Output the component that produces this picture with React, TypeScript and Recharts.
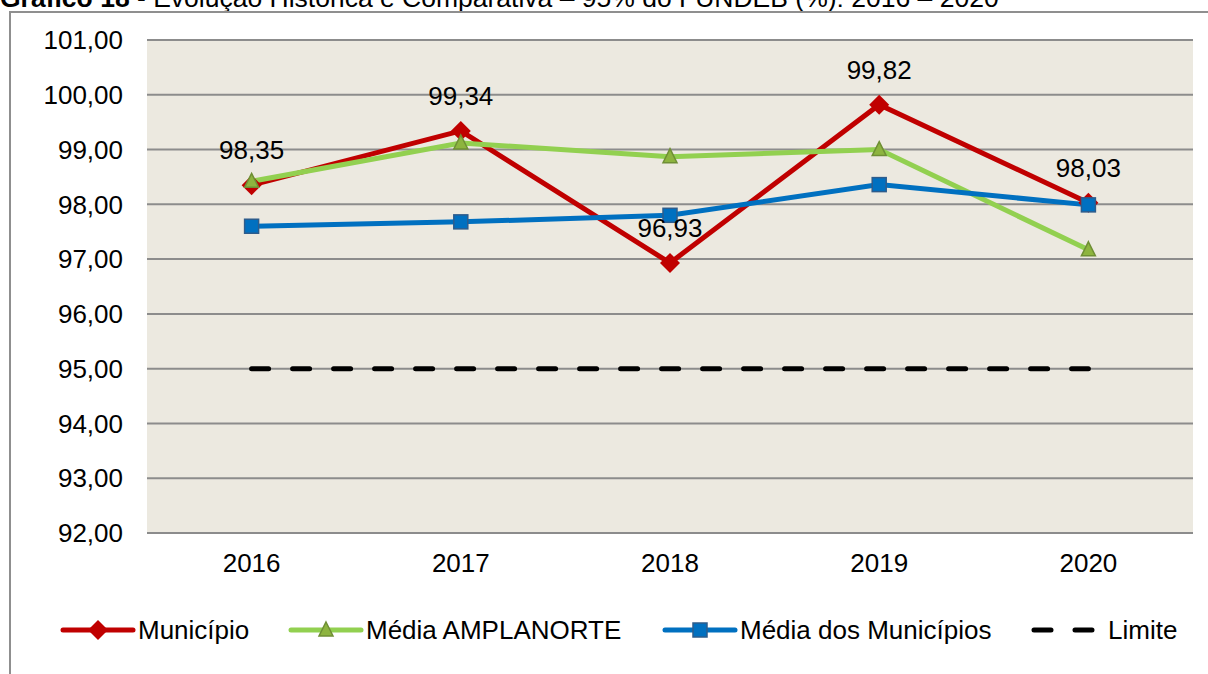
import { LineChart, Line, XAxis, YAxis, CartesianGrid, Legend, LabelList } from 'recharts';

const years = ['2016', '2017', '2018', '2019', '2020'];
const municipio = [98.35, 99.34, 96.93, 99.82, 98.03];
const mediaAmplanorte = [98.42, 99.12, 98.87, 99.0, 97.17];
const mediaMunicipios = [97.6, 97.68, 97.8, 98.36, 97.99];
const limite = [95, 95, 95, 95, 95];
const yTicks = [92, 93, 94, 95, 96, 97, 98, 99, 100, 101];

const FONT = '"Liberation Sans", Arial, sans-serif';

const data = years.map((year, i) => ({
  year,
  municipio: municipio[i],
  amplanorte: mediaAmplanorte[i],
  municipios: mediaMunicipios[i],
  limite: limite[i],
}));

const fmt = (v: number) => v.toFixed(2).replace('.', ',');

const Diamond = ({ cx, cy }: any) => (
  <path d={`M${cx},${cy - 10} L${cx + 10},${cy} L${cx},${cy + 10} L${cx - 10},${cy} Z`} fill="#C00000" />
);

const Triangle = ({ cx, cy }: any) => (
  <path
    d={`M${cx},${cy - 8} L${cx + 7},${cy + 6} L${cx - 7},${cy + 6} Z`}
    fill="#8DB43F"
    stroke="#6F8F35"
    strokeWidth={1.5}
  />
);

const Square = ({ cx, cy }: any) => (
  <rect x={cx - 7} y={cy - 7} width={14} height={14} fill="#0070C0" stroke="#2D5C8C" strokeWidth={1.5} />
);

// legend item positions (left edge of each icon)
const SERIES = [
  { key: 'municipio', name: 'Município', color: '#C00000', marker: Diamond, left: 60 },
  { key: 'amplanorte', name: 'Média AMPLANORTE', color: '#92D050', marker: Triangle, left: 288 },
  { key: 'municipios', name: 'Média dos Municípios', color: '#0070C0', marker: Square, left: 662 },
  { key: 'limite', name: 'Limite', color: '#000000', marker: null, left: 1031 },
];

const renderLegend = () => (
  <div
    style={{
      position: 'relative',
      height: 60,
      width: 1208,
      fontFamily: FONT,
      fontSize: 26,
      color: '#000',
    }}
  >
    {SERIES.map((s) => {
      const M = s.marker;
      const isLimite = s.key === 'limite';
      return (
        <div
          key={s.key}
          style={{ position: 'absolute', left: s.left, top: 0, height: 60, display: 'flex', alignItems: 'center', whiteSpace: 'nowrap' }}
        >
          <svg width={isLimite ? 64 : 76} height={24} style={{ marginRight: isLimite ? 13 : 2 }}>
            {isLimite ? (
              <line x1={3} y1={12} x2={61} y2={12} stroke="#000" strokeWidth={5} strokeDasharray="17 24" strokeLinecap="round" />
            ) : (
              <line x1={3} y1={12} x2={73} y2={12} stroke={s.color} strokeWidth={5} strokeLinecap="round" />
            )}
            {M && <M cx={38} cy={12} />}
          </svg>
          <span>{s.name}</span>
        </div>
      );
    })}
  </div>
);

export default function App() {
  return (
    <div
      style={{
        position: 'fixed',
        top: 0,
        left: 0,
        width: 1208,
        height: 674,
        overflow: 'hidden',
        background: '#fff',
        fontFamily: FONT,
      }}
    >
      <div
        style={{
          position: 'absolute',
          top: -17,
          left: 0,
          fontSize: 26.5,
          whiteSpace: 'nowrap',
          color: '#000',
        }}
      >
        <b>Gráfico 18</b> - Evolução Histórica e Comparativa – 95% do FUNDEB (%): 2016 – 2020
      </div>
      <div
        style={{
          position: 'absolute',
          top: 11,
          left: 9,
          width: 1300,
          height: 800,
          borderTop: '2px solid #8f8f8f',
          borderLeft: '2px solid #8f8f8f',
        }}
      />
      <div style={{ position: 'absolute', top: 0, left: 0 }}>
        <LineChart width={1208} height={674} data={data} margin={{ top: 40, right: 15, left: 0, bottom: 14 }}>
          <CartesianGrid vertical={false} stroke="#8c8c8c" strokeWidth={2} fill="#ECE9E0" />
          <XAxis
            dataKey="year"
            axisLine={false}
            tickLine={false}
            tickSize={0}
            tickMargin={21}
            height={67}
            padding={{ left: 104.6, right: 104.6 }}
            tick={{ fill: '#000', fontSize: 26, fontFamily: FONT }}
          />
          <YAxis
            domain={[92, 101]}
            ticks={yTicks}
            interval={0}
            width={147}
            axisLine={false}
            tickLine={false}
            tickSize={0}
            tickMargin={24}
            tickFormatter={fmt}
            tick={{ fill: '#000', fontSize: 26, fontFamily: FONT }}
          />
          <Legend verticalAlign="bottom" content={renderLegend} wrapperStyle={{ left: 0, width: 1208 }} />
          <Line
            dataKey="municipio"
            name="Município"
            stroke="#C00000"
            strokeWidth={5}
            dot={<Diamond />}
            activeDot={false}
            isAnimationActive={false}
          >
            <LabelList dataKey="municipio" position="top" offset={26} formatter={(v: any) => fmt(Number(v))} fill="#000" fontSize={26} fontFamily={FONT} />
          </Line>
          <Line
            dataKey="amplanorte"
            name="Média AMPLANORTE"
            stroke="#92D050"
            strokeWidth={5}
            dot={<Triangle />}
            activeDot={false}
            isAnimationActive={false}
          />
          <Line
            dataKey="municipios"
            name="Média dos Municípios"
            stroke="#0070C0"
            strokeWidth={5}
            dot={<Square />}
            activeDot={false}
            isAnimationActive={false}
          />
          <Line
            dataKey="limite"
            name="Limite"
            stroke="#000000"
            strokeWidth={5}
            strokeDasharray="17 24"
            strokeLinecap="round"
            dot={false}
            activeDot={false}
            isAnimationActive={false}
          />
        </LineChart>
      </div>
    </div>
  );
}
